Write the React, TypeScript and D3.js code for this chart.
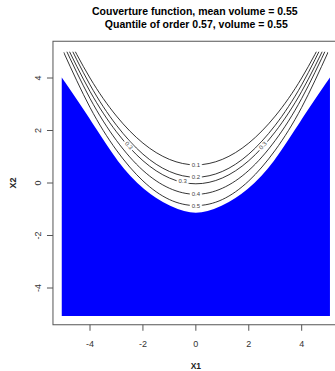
import React from "react";
import * as d3 from "d3";

const titleLines = ["Couverture function, mean volume = 0.55", " Quantile of order 0.57, volume = 0.55"];
const xTicks = [-4, -2, 0, 2, 4];
const yTicks = [-4, -2, 0, 2, 4];
const gridX = [-5, -4, -3, -2, -1, 0, 1, 2, 3, 4, 5];

// contour levels and y-values read at gridX
const levels = ["0.1", "0.2", "0.3", "0.4", "0.5"];
const c01 = [5.86, 4.0, 2.55, 1.52, 0.9, 0.69, 0.9, 1.52, 2.55, 4.0, 5.86];
const c02 = [5.72, 3.74, 2.2, 1.1, 0.44, 0.22, 0.44, 1.1, 2.2, 3.74, 5.72];
const c03 = [5.47, 3.49, 1.95, 0.85, 0.19, -0.03, 0.19, 0.85, 1.95, 3.49, 5.47];
const c04 = [5.27, 3.22, 1.62, 0.48, -0.2, -0.43, -0.2, 0.48, 1.62, 3.22, 5.27];
const c05 = [4.99, 2.88, 1.25, 0.08, -0.63, -0.86, -0.63, 0.08, 1.25, 2.88, 4.99];
const contourYs = [c01, c02, c03, c04, c05];
// quantile set upper boundary (blue)
const quantileTop = [3.8, 2.3, 0.8, -0.28, -0.93, -1.2, -0.93, -0.28, 0.8, 2.3, 3.8];
// label placements: [level index, x]
const labelSpots = [[0, 0], [1, 0], [2, -0.5], [3, 0], [4, 0], [2, -2.53], [2, 2.53]];

export default function App() {
  const W = 335, H = 371;
  const x = d3.scaleLinear().domain([-5.4, 5.4]).range([52.97, 338.73]);
  const y = d3.scaleLinear().domain([-5.4, 5.4]).range([324.75, 41.25]);
  const line = d3.line<number>().x((_, i) => x(gridX[i])).y(d => y(d)).curve(d3.curveNatural);
  const area = d3.area<number>().x((_, i) => x(gridX[i])).y0(y(-5)).y1(d => y(d)).curve(d3.curveNatural);
  const interp = (arr: number[], xv: number) => {
    const i = Math.max(0, Math.min(gridX.length - 2, Math.floor(xv - gridX[0])));
    const t = xv - gridX[i];
    return arr[i] + (arr[i + 1] - arr[i]) * t;
  };
  const font = "Liberation Sans, Arial, sans-serif";
  const cx = (x(-5.4) + x(5.4)) / 2;
  return (
    <svg width={W} height={H} style={{ position: "absolute", left: 0, top: 0, background: "#fff" }} fontFamily={font}>
      <defs>
        <clipPath id="dataClip">
          <rect x={x(-5)} y={y(5)} width={x(5) - x(-5)} height={y(-5) - y(5)} />
        </clipPath>
      </defs>
      <path d={area(quantileTop) || ""} fill="#0000ff" stroke="#0000ff" strokeWidth={3.6} strokeLinejoin="miter" />
      <g clipPath="url(#dataClip)">
        {contourYs.map((arr, k) => (
          <path key={k} d={line(arr) || ""} fill="none" stroke="#000" strokeWidth={0.8} />
        ))}
      </g>
      {labelSpots.map(([k, xv], i) => {
        const arr = contourYs[k];
        const yv = interp(arr, xv);
        const dy = (interp(arr, xv + 0.05) - interp(arr, xv - 0.05)) / 0.1;
        const ang = Math.abs(xv) < 1 ? 0 : (Math.atan2(-dy * (y(0) - y(1)), x(1) - x(0)) * 180) / Math.PI;
        return (
          <g key={i} transform={`translate(${x(xv)},${y(yv)}) rotate(${ang})`}>
            <rect x={-6} y={-3} width={12} height={6} fill="#fff" />
            <text textAnchor="middle" dy="0.35em" fontSize={6} fill="#444">{levels[k]}</text>
          </g>
        );
      })}
      <rect x={x(-5.4)} y={y(5.4)} width={x(5.4) - x(-5.4)} height={y(-5.4) - y(5.4)} fill="none" stroke="#555" strokeWidth={1} />
      {xTicks.map(t => (
        <g key={t}>
          <line x1={x(t)} x2={x(t)} y1={y(-5.4)} y2={y(-5.4) + 6} stroke="#555" />
          <text x={x(t)} y={347} textAnchor="middle" fontSize={9} fill="#333">{t}</text>
        </g>
      ))}
      {yTicks.map(t => (
        <g key={t}>
          <line x1={x(-5.4)} x2={x(-5.4) - 6} y1={y(t)} y2={y(t)} stroke="#555" />
          <text transform={`translate(41,${y(t)}) rotate(-90)`} textAnchor="middle" fontSize={9} fill="#333">{t}</text>
        </g>
      ))}
      <text x={cx} y={369} textAnchor="middle" fontSize={8.5} fontWeight="bold" fill="#222">X1</text>
      <text transform={`translate(16,${y(0)}) rotate(-90)`} textAnchor="middle" fontSize={9} fontWeight="bold" fill="#222">X2</text>
      {titleLines.map((t, i) => (
        <text key={i} x={cx - 1} y={15 + i * 13} textAnchor="middle" fontSize={10.5} fontWeight="bold" fill="#000" style={{ whiteSpace: "pre" }}>{t}</text>
      ))}
    </svg>
  );
}
